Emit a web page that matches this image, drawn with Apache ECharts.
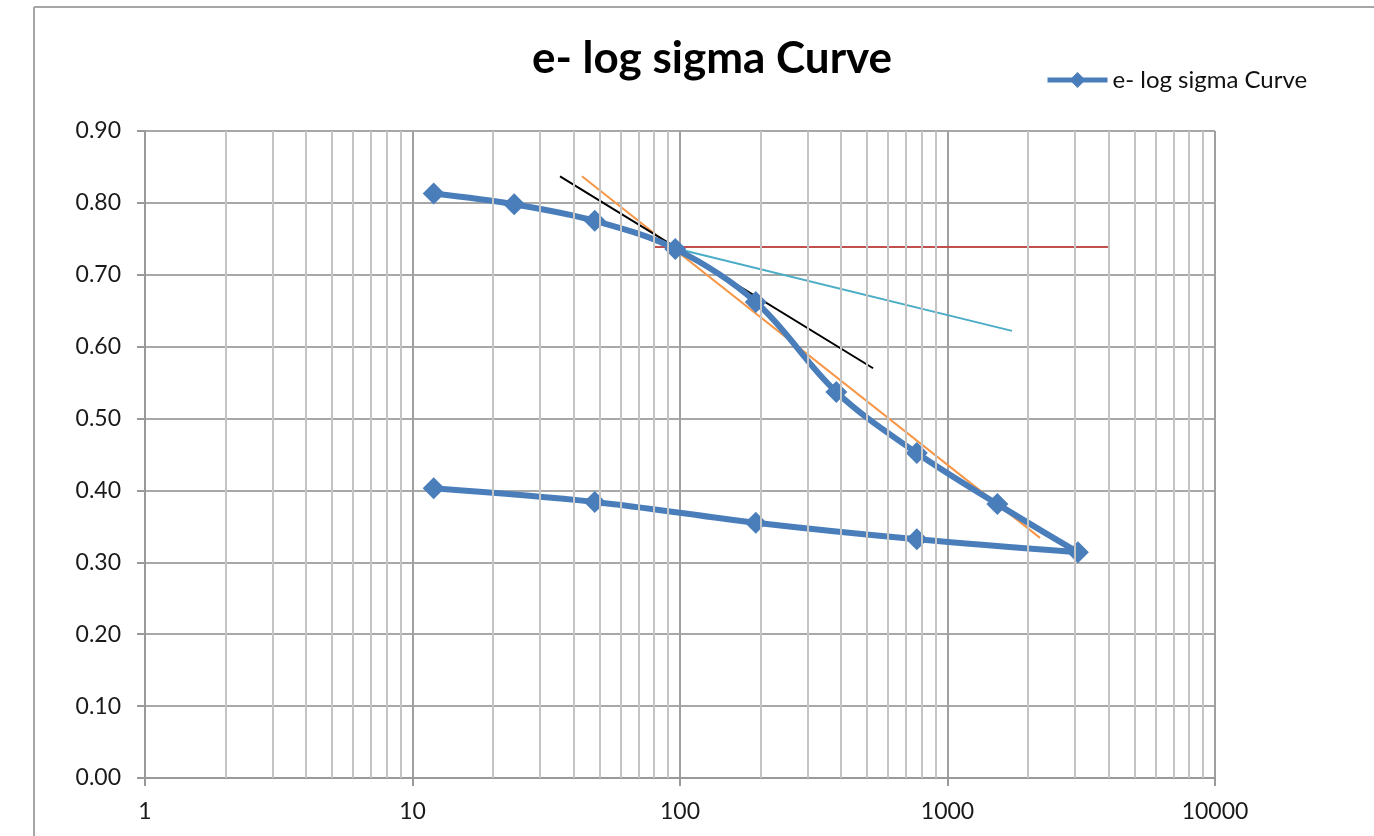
<!DOCTYPE html>
<html>
<head>
<meta charset="utf-8">
<script src="https://cdn.jsdelivr.net/npm/echarts@6/dist/echarts.min.js"></script>
<style>
  html, body { margin: 0; padding: 0; background: #fff; }
  #chart { width: 1374px; height: 836px; }
</style>
</head>
<body>
<div id="chart"></div>
<script>
// Pressure (log scale) and void ratio readings
const pressure = [12, 24, 48, 96, 192, 384, 768, 1536, 3072, 768, 192, 48, 12];
const voidRatio = [0.813, 0.798, 0.775, 0.736, 0.662, 0.537, 0.452, 0.381, 0.314, 0.332, 0.355, 0.384, 0.403];

// Construction lines (Casagrande method)
const tangentLine = [[35.6, 0.837], [527, 0.570]];
const virginLine = [[43, 0.837], [2218, 0.334]];
const bisectorLine = [[95.8, 0.737], [1742, 0.622]];
const horizontalLine = [[80.6, 0.7385], [4048, 0.7385]];

// Minor log grid values
const minorX = [];
[1, 10, 100, 1000].forEach(d => {
    for (let k = 2; k <= 9; k++) minorX.push(d * k);
});

const FONT = 'Lato, "Open Sans", sans-serif';

const chart = echarts.init(document.getElementById('chart'));

const construction = (data, color, width) => ({
    type: 'line',
    data: data,
    showSymbol: false,
    symbol: 'none',
    silent: true,
    lineStyle: { color: color, width: width },
    z: 3
});

chart.setOption({
    animation: false,
    title: {
        text: 'e- log sigma Curve',
        left: 707,
        textAlign: 'center',
        top: 32,
        textStyle: { fontFamily: FONT, fontWeight: 'bold', fontSize: 44, color: '#000' }
    },
    legend: {
        data: [{ name: 'e- log sigma Curve' }],
        left: 1040,
        top: 63,
        itemWidth: 60,
        itemHeight: 20,
        itemGap: 4,
        lineStyle: { width: 5 },
        textStyle: { fontFamily: FONT, fontSize: 24, color: '#111' }
    },
    grid: { left: 145, right: 159, top: 131, bottom: 58 },
    xAxis: {
        type: 'log',
        logBase: 10,
        min: 1,
        max: 10000,
        axisLine: { lineStyle: { color: '#999', width: 2 } },
        axisTick: { show: true, length: 8, lineStyle: { color: '#999', width: 2 } },
        splitLine: { show: true, lineStyle: { color: '#a0a0a0', width: 2 } },
        minorTick: { show: false },
        minorSplitLine: { show: false },
        axisLabel: {
            margin: 22,
            fontFamily: FONT,
            fontSize: 23,
            color: '#1a1a1a',
            formatter: v => String(Math.round(v))
        }
    },
    yAxis: {
        type: 'value',
        min: 0,
        max: 0.9,
        interval: 0.1,
        axisLine: { show: true, lineStyle: { color: '#999', width: 2 } },
        axisTick: { show: true, length: 8, lineStyle: { color: '#999', width: 2 } },
        splitLine: { show: true, lineStyle: { color: '#a8a8a8', width: 2 } },
        axisLabel: {
            margin: 24,
            fontFamily: FONT,
            fontSize: 23,
            color: '#1a1a1a',
            formatter: v => v.toFixed(2)
        }
    },
    graphic: [
        { type: 'line', shape: { x1: 34, y1: 7, x2: 1374, y2: 7 }, style: { stroke: '#a6a6a6', lineWidth: 2 }, silent: true },
        { type: 'line', shape: { x1: 34, y1: 7, x2: 34, y2: 836 }, style: { stroke: '#a6a6a6', lineWidth: 2 }, silent: true }
    ],
    series: [
        {
            name: 'minor',
            type: 'line',
            data: [],
            silent: true,
            z: 1,
            markLine: {
                silent: true,
                symbol: 'none',
                label: { show: false },
                lineStyle: { color: '#c4c4c4', width: 2, type: 'solid' },
                data: minorX.map(v => ({ xAxis: v }))
            }
        },
        construction(horizontalLine, '#c0504d', 2),
        construction(bisectorLine, '#4bacc6', 2),
        construction(virginLine, '#f79646', 2),
        construction(tangentLine, '#000000', 2),
        {
            name: 'e- log sigma Curve',
            type: 'line',
            data: pressure.map((p, i) => [p, voidRatio[i]]),
            smooth: 0.35,
            symbol: 'diamond',
            symbolSize: 22,
            lineStyle: { color: '#4a7ebb', width: 6 },
            itemStyle: { color: '#4a7ebb' },
            z: 4
        }
    ]
});
</script>
</body>
</html>
